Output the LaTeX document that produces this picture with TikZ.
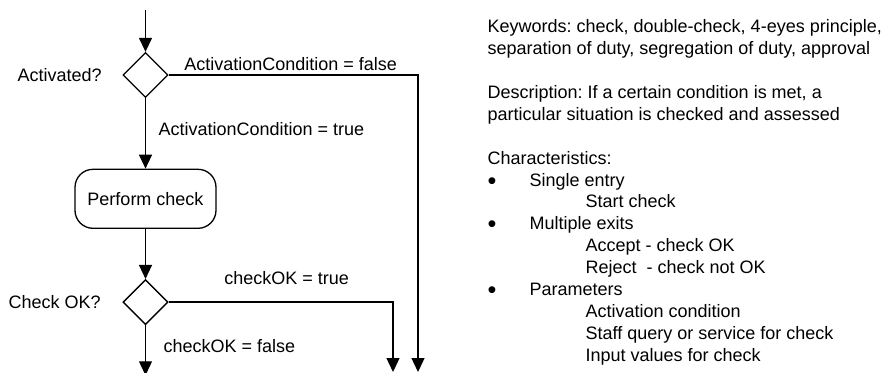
\documentclass[tikz,border=0pt]{standalone}
\usepackage{fontspec}
\setmainfont{Liberation Sans}
\usepackage{tikz}
\usetikzlibrary{arrows.meta, shapes.geometric, positioning}

\newcommand{\itembullet}{\makebox[42pt][l]{\raisebox{-3pt}{\scalebox{1.4}{\textbullet}}}}

\begin{document}
\begin{tikzpicture}[x=1pt, y=1pt, line width=1.3pt,
    font=\fontsize{18}{21.93}\selectfont\frenchspacing,
    flow/.style={-{Triangle[length=14pt, width=13pt]}},
    decision/.style={draw, diamond, aspect=1, minimum width=45pt, minimum height=45pt, inner sep=0pt},
    activity/.style={draw, rectangle, rounded corners=18pt, minimum width=141pt, minimum height=59pt, text centered},
    lbl/.style={inner sep=0pt},
    info/.style={inner sep=0pt, align=left, anchor=north west}]

    \useasboundingbox (0,0) rectangle (890,-372);

    \coordinate (start) at (145.5,-10);

    \node[decision] (act) at (145.5,-75)
    {};

    \node[activity, below=70.5pt of act] (perform)
    {Perform check};

    \node[decision, below=50pt of perform] (chk)
    {};

    \coordinate[below=50pt of chk] (outC);
    \coordinate (outT) at (393,-372);
    \coordinate (outF) at (418,-372);

    % labels
    \node[lbl, left=20pt of act] (actq)
    {Activated?};

    \node[lbl, anchor=base west] (lblF) at ([xshift=15pt, yshift=5pt]act.east)
    {ActivationCondition = false};

    \node[lbl, anchor=base west] (lblT) at ([xshift=12.5pt, yshift=-37.5pt]act.south)
    {ActivationCondition = true};

    \node[lbl, left=21pt of chk] (chkq)
    {Check OK?};

    \node[lbl, anchor=base west] (lblOK) at ([xshift=55pt, yshift=17.5pt]chk.east)
    {checkOK = true};

    \node[lbl, anchor=base west] (lblNOK) at ([xshift=17.5pt, yshift=-27pt]chk.south)
    {checkOK = false};

    % ---------------------------------------------------------

    \node[info] (desc) at (487,-18.8)
    {Keywords: check, double-check, 4-eyes principle,\\
     separation of duty, segregation of duty, approval\\[21.93pt]
     Description: If a certain condition is met, a\\
     particular situation is checked and assessed\\[21.93pt]
     Characteristics:\\
     \itembullet Single entry\\
     \hspace*{98pt}Start check\\
     \itembullet Multiple exits\\
     \hspace*{98pt}Accept - check OK\\
     \hspace*{98pt}Reject\ \ - check not OK\\
     \itembullet Parameters\\
     \hspace*{98pt}Activation condition\\
     \hspace*{98pt}Staff query or service for check\\
     \hspace*{98pt}Input values for check};

    \draw[flow] (start) -- (act);
    \draw[flow] (act) -- (perform);
    \draw[flow] (act.east) -| (outF);
    \draw[flow] (perform) -- (chk);
    \draw[flow] (chk.east) -| (outT);
    \draw[flow] (chk) -- (outC);
\end{tikzpicture}
\end{document}
